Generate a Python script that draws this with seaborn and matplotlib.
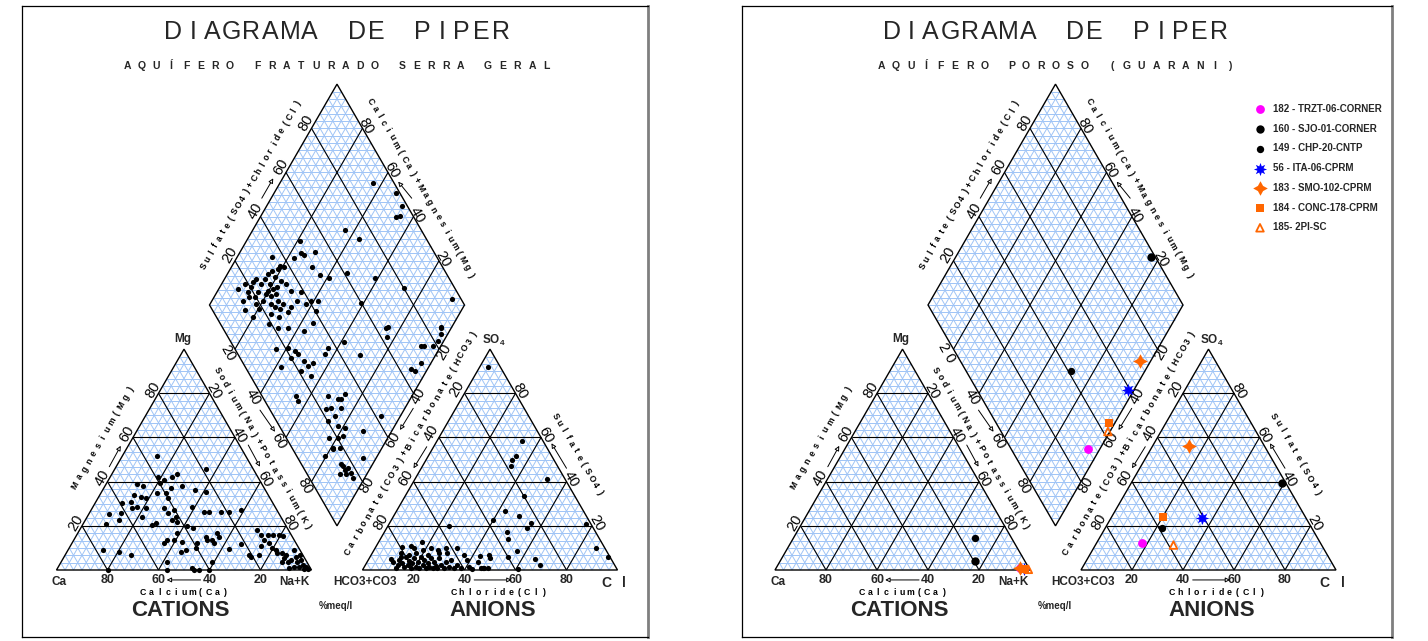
import numpy as np
import matplotlib
matplotlib.use("Agg")
import matplotlib.pyplot as plt
import seaborn as sns
from matplotlib.collections import LineCollection
from matplotlib.patches import Polygon

# ---------------------------------------------------------------- data
# Aquifero Fraturado Serra Geral (% meq/l), read from the three fields
serra_cat_mg = [51.8, 45.8, 42.3, 43.4, 42.3, 40.8, 39.3, 38.2, 39.0, 38.2, 36.0, 35.5, 34.0, 33.2,
                32.5, 34.7, 34.7, 32.5, 37.0, 31.0, 30.2, 28.0, 28.7, 28.0, 25.7, 25.2, 22.7, 24.2,
                28.0, 25.7, 27.2, 24.2, 22.7, 21.9, 20.4, 21.5, 28.7, 26.4, 26.4, 26.4, 26.4, 27.2,
                19.9, 18.9, 16.9, 13.6, 13.6, 12.1, 12.8, 12.1, 9.8, 9.1, 8.3, 15.1, 13.6, 13.6,
                16.6, 15.1, 12.4, 3.8, 9.4, 11.8, 6.8, 8.3, 9.1, 3.8, 0.0, 0.8, 0.0, 0.0, 0.0, 0.0,
                18.1, 15.9, 13.6, 15.9, 15.9, 15.9, 12.1, 10.9, 6.8, 6.8, 5.7, 9.8, 9.1, 7.6, 7.6,
                6.8, 9.1, 5.3, 4.5, 6.0, 3.8, 4.5, 2.3, 1.5, 1.5, 0.8, 1.2, 0.3, 0.3, 3.8, 3.8, 6.8,
                15.4, 20.8]
serra_cat_nak = [13.4, 35.9, 18.7, 25.7, 24.2, 21.7, 21.1, 30.2, 12.2, 14.9, 36.2, 40.7, 13.4, 16.4,
                 18.7, 22.1, 25.4, 27.3, 26.3, 13.6, 10.7, 15.7, 17.3, 21.0, 12.3, 7.9, 13.2, 21.5,
                 28.1, 30.7, 32.5, 34.8, 34.1, 36.4, 27.4, 28.2, 38.9, 44.7, 46.6, 51.2, 54.5, 58.9,
                 41.3, 43.9, 38.9, 39.3, 36.7, 36.1, 42.9, 49.2, 49.7, 46.2, 44.5, 50.9, 52.4, 54.3,
                 54.8, 56.1, 55.6, 59.2, 63.0, 66.4, 25.7, 20.3, 13.8, 41.3, 43.5, 52.9, 53.9, 55.9,
                 59.8, 20.2,
                 69.7, 72.2, 74.6, 74.8, 76.8, 79.4, 77.4, 74.7, 76.1, 72.1, 73.3, 79.8, 81.5, 82.8,
                 84.8, 86.5, 88.7, 86.7, 89.6, 90.8, 92.6, 93.5, 95.4, 94.4, 92.4, 90.8, 97.2, 98.4,
                 97.1, 88.7, 86.7, 92.1, 81.3, 9.2]

serra_an_so4 = [91.7, 58.6, 51.4, 49.8, 47.3, 41.2, 33.7, 26.9, 24.5, 22.7, 21.1, 18.9, 20.1, 17.4,
                14.0, 20.8, 10.1, 6.0, 8.6, 4.8, 2.3, 5.7, 0.3, 6.8, 5.3, 6.5, 3.8, 1.0, 0.8, 0.8,
                1.0, 0.5, 6.8, 4.5, 1.5, 9.8, 10.1, 7.6, 9.8, 9.1, 12.8, 9.1, 10.9, 9.8, 10.6, 7.6,
                4.8, 3.8,
                0.8, 2.3, 4.5, 3.3, 1.2, 5.7, 2.3, 4.2, 0.8, 3.0, 5.3, 1.5, 3.8, 0.8, 6.0, 2.3, 4.5,
                0.8, 3.0, 1.5, 5.3, 0.8, 3.8, 1.8, 0.8, 5.3, 2.3, 0.8, 3.8, 1.5, 4.5, 0.8, 2.3, 0.8,
                7.6, 6.8, 7.6, 6.8, 5.7]
serra_an_cl = [3.2, 33.1, 34.4, 33.9, 34.6, 51.9, 46.6, 42.5, 49.0, 39.7, 55.4, 55.0, 24.0, 47.9,
               49.9, 77.2, 86.4, 93.3, 56.2, 65.2, 68.6, 54.4, 61.0, 46.3, 47.5, 42.9, 43.2, 47.2,
               49.0, 47.0, 45.8, 42.5, 36.5, 38.9, 41.0, 32.1, 27.6, 29.3, 21.9, 24.9, 17.1, 19.0,
               13.5, 15.4, 10.0, 11.2, 8.7, 9.9,
               12.7, 12.6, 12.1, 14.0, 15.7, 14.1, 16.5, 16.2, 18.6, 18.1, 17.6, 20.2, 19.7, 21.8,
               19.9, 22.4, 21.9, 24.5, 24.0, 25.4, 24.2, 27.1, 26.2, 27.9, 29.0, 27.4, 29.6, 31.6,
               30.8, 33.2, 32.4, 35.6, 36.1, 38.2, 26.3, 22.1, 17.1, 14.9, 12.2]

serra_dia_so4cl = [91.7, 98.2, 97.9, 93.2, 95.0, 70.0, 73.4, 49.7, 53.4, 48.6, 47.6, 43.7, 35.2, 48.8,
                   50.0, 52.9, 61.1, 71.1, 80.1, 96.4, 59.9, 64.9, 85.8,
                   35.2, 37.9, 36.4, 32.2, 29.9, 27.7, 28.3, 28.5, 30.5, 31.8, 33.6, 34.8, 35.3, 35.4,
                   38.8, 38.1, 40.8, 43.5, 40.5,
                   14.7, 18.5, 17.9, 20.3, 22.1, 24.2, 17.4, 19.4, 21.8, 25.0, 12.6, 14.2, 18.5, 18.7,
                   21.9, 24.7, 14.1,
                   26.1, 26.3, 28.6, 27.8, 24.4, 25.0, 26.6, 29.0, 31.5, 29.1, 24.3, 22.1,
                   19.1, 21.7, 25.6, 31.4, 36.5, 16.1, 21.1, 22.9, 23.5, 20.1, 24.6, 27.5, 24.8, 21.0,
                   23.8, 14.0, 33.9, 36.7, 12.9, 13.4, 25.8, 29.0, 22.2, 24.5, 23.9, 20.2, 17.0, 22.7,
                   22.9, 10.9, 15.7, 15.6, 15.7, 12.7, 15.3,
                   44.6, 47.8, 62.4, 63.9, 73.7, 75.0, 78.3, 81.4, 84.2, 85.6, 70.0, 64.5, 65.5, 33.1,
                   30.3, 28.3, 42.2, 25.2, 31.7, 20.3, 18.7, 25.6, 16.1, 15.8, 17.4, 17.6, 17.1]
serra_dia_nak = [36.4, 47.7, 52.9, 53.2, 54.8, 35.9, 43.5, 20.9, 29.5, 25.9, 24.2, 22.4, 13.6, 31.7,
                 36.3, 40.7, 46.6, 58.8, 72.4, 93.9, 59.0, 75.0, 95.9,
                 18.9, 20.9, 18.6, 16.9, 15.9, 15.9, 18.8, 21.2, 22.5, 19.2, 22.6, 25.3, 28.8, 33.4,
                 33.1, 37.7, 38.9, 41.5, 43.1,
                 7.5, 9.0, 12.2, 12.3, 11.9, 12.4, 13.9, 15.9, 16.1, 15.5, 14.9, 19.8, 18.1, 20.5,
                 19.9, 19.7, 12.1,
                 19.6, 22.1, 23.6, 25.8, 24.0, 26.0, 28.4, 28.5, 32.5, 32.4, 29.9, 26.2,
                 27.5, 31.9, 35.9, 43.1, 44.5, 36.2, 40.4, 43.8, 45.8, 44.0, 49.9, 53.6, 52.4, 50.9,
                 55.9, 42.3, 56.3, 56.1, 56.4, 54.6, 67.0, 71.7, 69.4, 71.0, 74.2, 72.7, 77.1, 81.9,
                 77.8, 79.3, 81.1, 87.7, 90.2, 89.3, 91.9,
                 61.2, 70.6, 76.9, 74.2, 92.3, 93.6, 96.9, 97.7, 97.5, 96.2, 96.1, 93.7, 95.3, 73.3,
                 73.0, 75.0, 92.5, 80.7, 88.7, 80.4, 83.3, 94.7, 80.7, 88.8, 91.1, 93.5, 95.3]

# Aquifero Poroso (Guarani) - one entry per well
guarani_labels = ["182 - TRZT-06-CORNER", "160 - SJO-01-CORNER", "149 - CHP-20-CNTP",
                  "56 - ITA-06-CPRM", "183 - SMO-102-CPRM", "184 - CONC-178-CPRM", "185- 2PI-SC"]
guarani_mg = [1.0, 4.2, 14.4, 0.5, 1.0, 0.5, 0.3]
guarani_nak = [95.5, 76.5, 71.3, 97.5, 95.6, 97.8, 99.2]
guarani_so4 = [12.4, 39.5, 18.9, 23.4, 56.2, 23.9, 11.3]
guarani_cl = [17.7, 58.9, 22.3, 35.6, 14.1, 20.3, 30.6]

guarani_colors = ["#ff00ff", "black", "black", "#0000ff", "#ff6600", "#ff6600", "#ff6600"]
guarani_markers = ["o", "o", "o", (8, 1, 0), (4, 1, 0), "s", "^"]
guarani_sizes = [40, 36, 28, 90, 110, 30, 30]

# ---------------------------------------------------------------- geometry
H = np.sqrt(3) / 2
GAP = 0.2
PX = 255.0  # pixels per side of a triangle
CAT = [(0, 0), (1, 0), (0.5, H)]
AN = [(1 + GAP, 0), (2 + GAP, 0), (1.5 + GAP, H)]
DB = np.array([1 + GAP / 2, GAP * H])
DL = DB + [-0.5, H]
DR = DB + [0.5, H]
DT = DL + [0.5, H]


def cat_xy(mg, nak):
    mg, nak = np.asarray(mg) / 100, np.asarray(nak) / 100
    return nak + 0.5 * mg, H * mg


def an_xy(so4, cl):
    so4, cl = np.asarray(so4) / 100, np.asarray(cl) / 100
    return 1 + GAP + cl + 0.5 * so4, H * so4


def dia_xy(p, q):
    p, q = np.asarray(p, float), np.asarray(q, float)
    return DL[0] + 0.5 * (p + q), DL[1] + H * (p - q)


def tri_segments(A, B, C, fracs):
    A, B, C = map(np.asarray, (A, B, C))
    segs = []
    for P, Q, R in ((A, B, C), (B, C, A), (C, A, B)):
        for t in fracs:
            segs.append([P * t + Q * (1 - t), P * t + R * (1 - t)])
    return segs


def dia_segments(fracs, horizontal=False):
    segs = []
    for t in fracs:
        segs.append([dia_xy(t, 0), dia_xy(t, 1)])
        segs.append([dia_xy(0, t), dia_xy(1, t)])
    if horizontal:
        for d in np.concatenate([-fracs[::-1], [0], fracs]):
            q0, q1 = max(0, -d), min(1, 1 - d)
            segs.append([dia_xy(q0 + d, q0), dia_xy(q1 + d, q1)])
    return segs


def edge_point(P0, P1, f, off):
    P0, P1 = np.asarray(P0, float), np.asarray(P1, float)
    d = (P1 - P0) / np.linalg.norm(P1 - P0)
    n = np.array([-d[1], d[0]])
    return P0 + f * (P1 - P0) + off * n


def spaced_text(ax, s, xy, angle, pitch, space=1.0, **kw):
    d = np.array([np.cos(np.radians(angle)), np.sin(np.radians(angle))])
    w = np.array([space if c == " " else 1.0 for c in s]) * pitch / PX
    centers = np.cumsum(w) - w / 2 - w.sum() / 2
    for c, t in zip(s, centers):
        if c != " ":
            ax.text(xy[0] + t * d[0], xy[1] + t * d[1], c, rotation=angle,
                    rotation_mode="anchor", ha="center", va="center_baseline", **kw)


def arrow(ax, start, end):
    ax.annotate("", xy=end, xytext=start,
                arrowprops=dict(arrowstyle="-|>", lw=0.7, color="black", fc="white",
                                mutation_scale=7, shrinkA=0, shrinkB=0))


# ---------------------------------------------------------------- drawing
def draw_frame(ax):
    fine = np.arange(1, 30) / 30
    major = np.array([0.2, 0.4, 0.6, 0.8])
    blue = "#9fc4f6"
    for tri in (CAT, AN):
        ax.add_collection(LineCollection(tri_segments(*tri, fine), colors=blue, lw=0.7, zorder=1))
        ax.add_collection(LineCollection(tri_segments(*tri, major), colors="black", lw=0.8, zorder=2))
        ax.add_patch(Polygon(tri, closed=True, fill=False, ec="black", lw=1.0, zorder=3))
    ax.add_collection(LineCollection(dia_segments(fine, True), colors=blue, lw=0.7, zorder=1))
    ax.add_collection(LineCollection(dia_segments(major), colors="black", lw=0.8, zorder=2))
    ax.add_patch(Polygon([DL, DT, DR, DB], closed=True, fill=False, ec="black", lw=1.0, zorder=3))


def draw_labels(ax, title, subtitle, nak_diamond_20="20"):
    ticks = [20, 40, 60, 80]
    num = dict(fontsize=10.5, color="black")
    name = dict(fontsize=6.3, fontweight="bold", color="black")
    # cation triangle
    for v in ticks:
        ax.text(*edge_point(CAT[0], CAT[2], v / 100, 0.026), str(v), rotation=60,
                ha="center", va="center", **num)
        ax.text(*edge_point(CAT[2], CAT[1], v / 100, 0.018), str(v), rotation=-60,
                ha="center", va="center", **num)
        ax.text(1 - v / 100, -0.04, str(v), ha="center", va="center", fontsize=9, fontweight="bold")
    # anion triangle
    for v in ticks:
        ax.text(*edge_point(AN[0], AN[2], 1 - v / 100, 0.033), str(v), rotation=60,
                ha="center", va="center", **num)
        ax.text(*edge_point(AN[2], AN[1], 1 - v / 100, 0.021), str(v), rotation=-60,
                ha="center", va="center", **num)
        ax.text(1 + GAP + v / 100, -0.04, str(v), ha="center", va="center",
                fontsize=9, fontweight="bold")
    # diamond
    for v in ticks:
        ax.text(*edge_point(DL, DT, v / 100 + 0.01, 0.029), str(v), rotation=60,
                ha="center", va="center", **num)
        ax.text(*edge_point(DT, DR, 1 - v / 100, 0.016), str(v), rotation=-60,
                ha="center", va="center", **num)
        lab = nak_diamond_20 if v == 20 else str(v)
        ax.text(*edge_point(DL, DB, v / 100, -0.031), lab, rotation=-60,
                ha="center", va="center", **num)
        ax.text(*edge_point(DB, DR, 1 - v / 100, -0.022), str(v), rotation=60,
                ha="center", va="center", **num)

    # axis names
    spaced_text(ax, "Magnesium(Mg)", edge_point(CAT[0], CAT[2], 0.542, 0.106), 60, 9.2, **name)
    spaced_text(ax, "Sodium(Na)+Potassium(K)", edge_point(CAT[2], CAT[1], 0.49, 0.075), -60, 8.2, **name)
    spaced_text(ax, "Carbonate(CO3)+Bicarbonate(HCO3)", edge_point(AN[0], AN[2], 0.526, 0.089), 60, 8.1, **name)
    spaced_text(ax, "Sulfate(SO4)", edge_point(AN[2], AN[1], 0.527, 0.095), -60, 8.0, **name)
    spaced_text(ax, "Sulfate(SO4)+Chloride(Cl)", edge_point(DL, DT, 0.49, 0.099), 60, 7.8, **name)
    spaced_text(ax, "Calcium(Ca)+Magnesium(Mg)", edge_point(DT, DR, 0.517, 0.085), -60, 8.35, **name)
    spaced_text(ax, "Calcium(Ca)", (0.5, -0.085), 0, 8.2, **name)
    spaced_text(ax, "Chloride(Cl)", (1.733, -0.085), 0, 8.2, **name)

    # arrows
    arrow(ax, (0.207, 0.405), (0.252, 0.487))
    arrow(ax, (0.752, 0.490), (0.798, 0.405))
    arrow(ax, (0.565, -0.039), (0.432, -0.039))
    arrow(ax, (0.798, 0.627), (0.857, 0.542))
    arrow(ax, (0.805, 1.458), (0.850, 1.536))
    arrow(ax, (1.393, 1.458), (1.340, 1.523))
    arrow(ax, (1.399, 0.634), (1.347, 0.549))
    arrow(ax, (1.452, 0.4835), (1.400, 0.3988))
    arrow(ax, (2.000, 0.399), (1.941, 0.497))
    arrow(ax, (1.638, -0.039), (1.785, -0.039))

    # corner labels
    corner = dict(fontsize=8.5, fontweight="bold", ha="center", va="center")
    ax.text(0.011, -0.046, "Ca", **corner)
    ax.text(0.935, -0.046, "Na+K", **corner)
    ax.text(0.495, 0.905, "Mg", **corner)
    ax.text(1.208, -0.046, "HCO3+CO3", **corner)
    ax.text(1.713, 0.902, r"SO$_\mathbf{4}$", **corner)
    spaced_text(ax, "C l", (2.19, -0.046), 0, 9, fontsize=10, fontweight="bold")
    ax.text(1.096, -0.14, "%meq/l", fontsize=7, fontweight="bold", ha="center", va="center")
    ax.text(0.487, -0.157, "CATIONS", fontsize=16, fontweight="bold", ha="center", va="center")
    ax.text(1.712, -0.157, "ANIONS", fontsize=16, fontweight="bold", ha="center", va="center")

    # titles
    spaced_text(ax, title, (1.1, 2.118), 0, 19.5, space=1.4, fontsize=18)
    spaced_text(ax, subtitle, (1.1, 1.98), 0, 14.7, space=0.85, fontsize=7.5, fontweight="bold")


def panel_axes(fig, left, right, top, bottom, x0, y0=570):
    W, Hf = 1428, 641
    ax = fig.add_axes([left / W, 1 - bottom / Hf, (right - left) / W, (bottom - top) / Hf])
    ax.set_xlim((left - x0) / PX, (right - x0) / PX)
    ax.set_ylim((y0 - bottom) / PX, (y0 - top) / PX)
    ax.set_xticks([])
    ax.set_yticks([])
    for side, sp in ax.spines.items():
        sp.set_visible(True)
        sp.set_color("#7f7f7f" if side == "right" else "black")
        sp.set_linewidth(2.0 if side == "right" else 0.9)
    return ax


sns.set_theme(style="white")
plt.rcParams["font.family"] = ["Liberation Sans", "DejaVu Sans"]
plt.rcParams["mathtext.fontset"] = "custom"
plt.rcParams["mathtext.bf"] = "Liberation Sans:bold"

fig = plt.figure(figsize=(14.28, 6.41), dpi=100)

# ---- left panel: Serra Geral
ax1 = panel_axes(fig, 22, 648, 6, 637, 56.5)
draw_frame(ax1)
draw_labels(ax1, "DIAGRAMA DE PIPER", "AQUÍFERO FRATURADO SERRA GERAL")
dot = dict(color="black", s=14, linewidth=0, zorder=5, legend=False)
x, y = cat_xy(serra_cat_mg, serra_cat_nak)
sns.scatterplot(x=x, y=y, ax=ax1, **dot)
x, y = an_xy(serra_an_so4, serra_an_cl)
sns.scatterplot(x=x, y=y, ax=ax1, **dot)
x, y = dia_xy(np.array(serra_dia_so4cl) / 100, np.array(serra_dia_nak) / 100)
sns.scatterplot(x=x, y=y, ax=ax1, **dot)

# ---- right panel: Guarani
ax2 = panel_axes(fig, 742, 1392, 6, 637, 775)
draw_frame(ax2)
draw_labels(ax2, "DIAGRAMA DE PIPER", "AQUÍFERO POROSO (GUARANI)", nak_diamond_20="2 0")
handles = []
for i, lab in enumerate(guarani_labels):
    cx, cy = cat_xy([guarani_mg[i]], [guarani_nak[i]])
    axx, axy = an_xy([guarani_so4[i]], [guarani_cl[i]])
    dx, dy = dia_xy([(guarani_so4[i] + guarani_cl[i]) / 100], [guarani_nak[i] / 100])
    xs = np.concatenate([cx, axx, np.atleast_1d(dx)])
    ys = np.concatenate([cy, axy, np.atleast_1d(dy)])
    sns.scatterplot(x=xs, y=ys, ax=ax2, marker=guarani_markers[i], color=guarani_colors[i],
                    s=guarani_sizes[i], linewidth=0, zorder=6, label=lab)
    coll = ax2.collections[-1]
    if guarani_markers[i] == "^":
        coll.set_facecolor("none")
        coll.set_edgecolor(guarani_colors[i])
        coll.set_linewidth(1.3)
    handles.append(coll)

ax2.legend(handles=handles, labels=guarani_labels, loc="upper left",
           bbox_to_anchor=(1252.7 / 1428, 1 - 104 / 641), bbox_transform=fig.transFigure,
           frameon=False, borderpad=0, borderaxespad=0, handlelength=1.5, handletextpad=0.6,
           labelspacing=1.0, scatterpoints=1, prop=dict(size=7, weight="bold"))

fig.savefig("out.png", dpi=100)
